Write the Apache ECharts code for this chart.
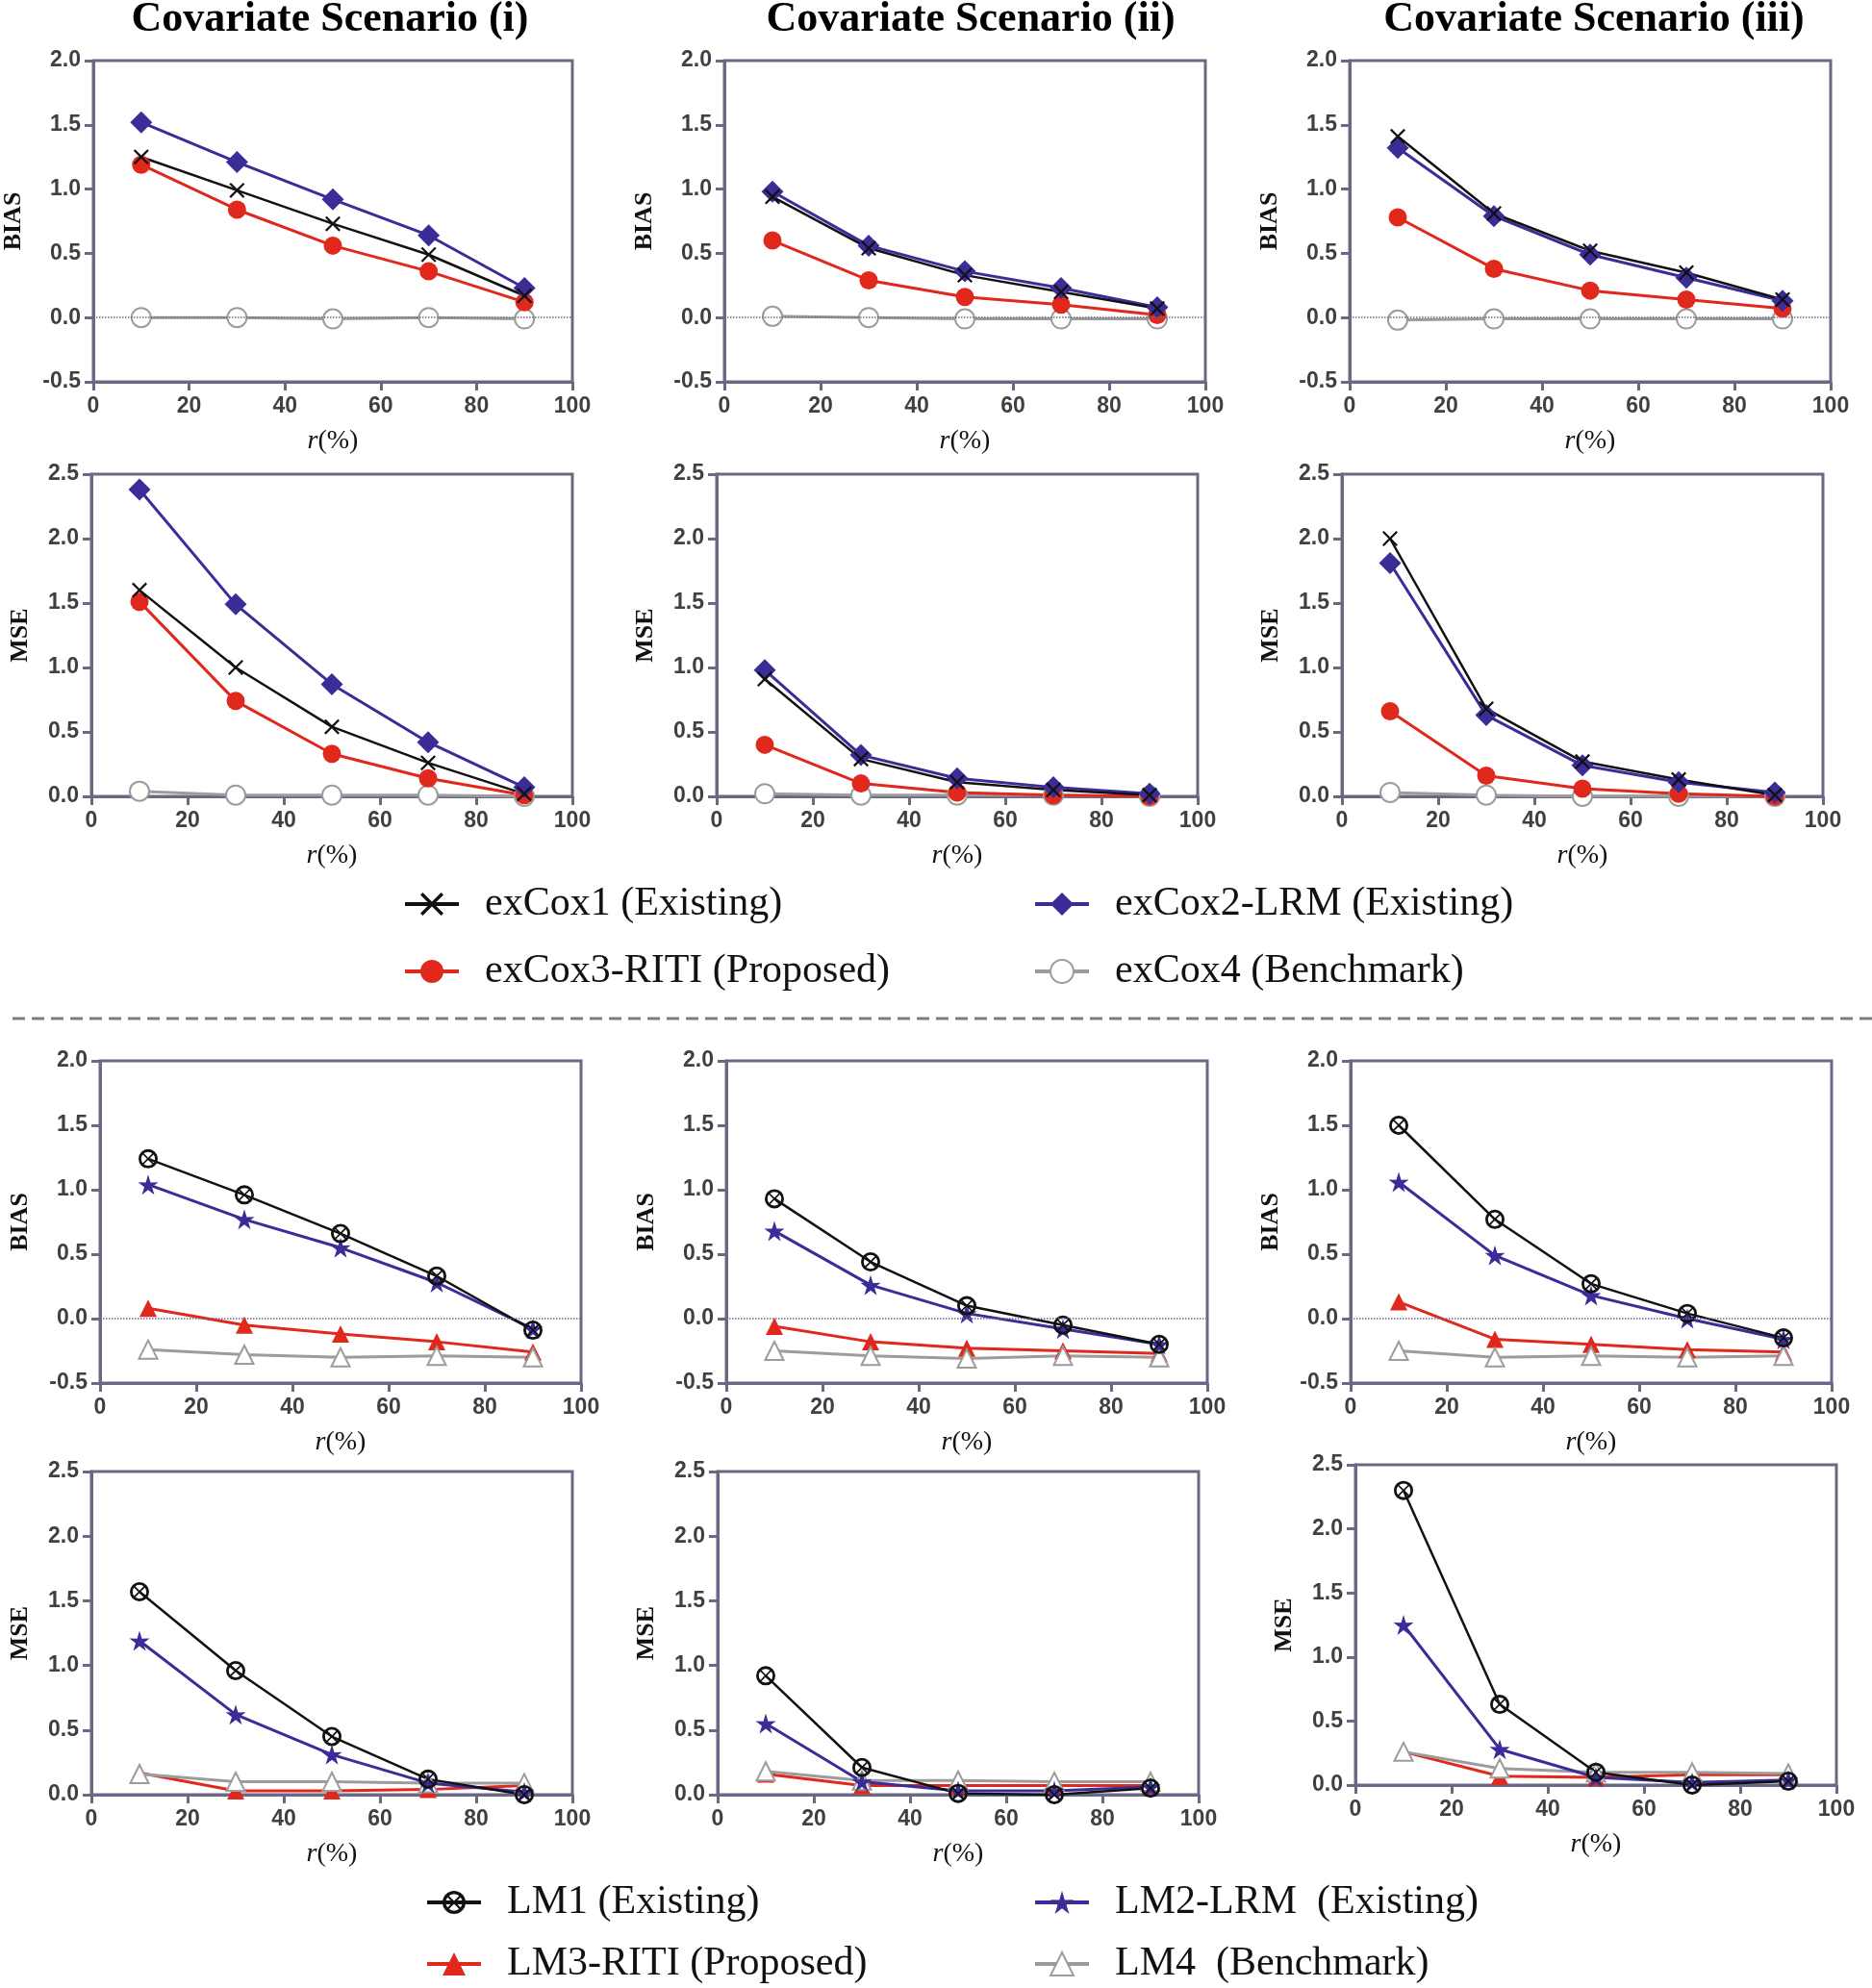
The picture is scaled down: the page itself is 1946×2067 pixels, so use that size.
<!DOCTYPE html>
<html><head><meta charset="utf-8">
<script src="https://cdn.jsdelivr.net/npm/echarts@6/dist/echarts.min.js"></script>
<style>html,body{margin:0;padding:0;background:#fff}#c{width:1946px;height:2067px}</style>
</head><body><div id="c"></div>
<script>
// ---------------- DATA ----------------
const rPct = [10, 30, 50, 70, 90];
const scenarioTitles = ['Covariate Scenario (i)', 'Covariate Scenario (ii)', 'Covariate Scenario (iii)'];
const xTickRange = [0, 100, 20];
const biasTickRange = [-0.5, 2.0, 0.5];
const mseTickRange = [0, 2.5, 0.5];

const coxNames = ['exCox1 (Existing)', 'exCox2-LRM (Existing)', 'exCox3-RITI (Proposed)', 'exCox4 (Benchmark)'];
const lmNames = ['LM1 (Existing)', 'LM2-LRM  (Existing)', 'LM3-RITI (Proposed)', 'LM4  (Benchmark)'];

// each array: [scenario (i), (ii), (iii)]
const exCox1Bias = [[1.25, 0.99, 0.73, 0.49, 0.17], [0.94, 0.54, 0.33, 0.20, 0.07], [1.41, 0.81, 0.52, 0.35, 0.14]];
const exCox2Bias = [[1.52, 1.21, 0.92, 0.64, 0.23], [0.98, 0.56, 0.36, 0.23, 0.08], [1.32, 0.79, 0.49, 0.31, 0.13]];
const exCox3Bias = [[1.19, 0.84, 0.56, 0.36, 0.12], [0.60, 0.29, 0.16, 0.10, 0.02], [0.78, 0.38, 0.21, 0.14, 0.07]];
const exCox4Bias = [[0.00, 0.00, -0.01, 0.00, -0.01], [0.01, 0.00, -0.01, -0.01, -0.01], [-0.02, -0.01, -0.01, -0.01, -0.01]];

const exCox1Mse = [[1.60, 1.00, 0.54, 0.26, 0.02], [0.91, 0.29, 0.11, 0.05, 0.01], [2.00, 0.68, 0.27, 0.13, 0.01]];
const exCox2Mse = [[2.38, 1.49, 0.87, 0.42, 0.07], [0.98, 0.32, 0.14, 0.07, 0.02], [1.81, 0.63, 0.24, 0.11, 0.03]];
const exCox3Mse = [[1.51, 0.74, 0.33, 0.14, 0.01], [0.40, 0.10, 0.03, 0.01, 0.00], [0.66, 0.16, 0.06, 0.02, 0.00]];
const exCox4Mse = [[0.04, 0.01, 0.01, 0.01, 0.00], [0.02, 0.01, 0.01, 0.01, 0.00], [0.03, 0.01, 0.00, 0.00, 0.00]];

const lm1Bias = [[1.24, 0.96, 0.66, 0.33, -0.09], [0.93, 0.44, 0.10, -0.05, -0.20], [1.50, 0.77, 0.27, 0.04, -0.15]];
const lm2Bias = [[1.04, 0.77, 0.55, 0.28, -0.08], [0.68, 0.26, 0.04, -0.08, -0.20], [1.06, 0.49, 0.18, 0.00, -0.16]];
const lm3Bias = [[0.08, -0.05, -0.12, -0.18, -0.26], [-0.06, -0.18, -0.23, -0.25, -0.27], [0.13, -0.16, -0.20, -0.24, -0.26]];
const lm4Bias = [[-0.24, -0.28, -0.30, -0.29, -0.30], [-0.25, -0.29, -0.31, -0.29, -0.30], [-0.25, -0.30, -0.29, -0.30, -0.29]];

const lm1Mse = [[1.57, 0.96, 0.45, 0.12, 0.00], [0.92, 0.21, 0.01, 0.00, 0.05], [2.30, 0.63, 0.10, 0.00, 0.03]];
const lm2Mse = [[1.19, 0.62, 0.31, 0.09, 0.02], [0.55, 0.10, 0.03, 0.03, 0.06], [1.25, 0.28, 0.06, 0.02, 0.04]];
const lm3Mse = [[0.17, 0.03, 0.03, 0.04, 0.07], [0.16, 0.07, 0.07, 0.07, 0.07], [0.26, 0.07, 0.06, 0.08, 0.08]];
const lm4Mse = [[0.16, 0.10, 0.10, 0.09, 0.09], [0.18, 0.11, 0.11, 0.10, 0.10], [0.26, 0.13, 0.10, 0.10, 0.09]];

// ---------------- STYLE / LAYOUT ----------------
const AX = '#6b6886';
const C_BLACK = '#111111', C_BLUE = '#3b2d98', C_RED = '#e0281c', C_GRAY = '#9c9c9c';
const SYM_X = 'path://M0,10L10,0L50,40L90,0L100,10L60,50L100,90L90,100L50,60L10,100L0,90L40,50Z';
const SYM_OX = 'path://M50,0A50,50,0,1,1,50,100A50,50,0,1,1,50,0Z M50,14A36,36,0,1,0,50,86A36,36,0,1,0,50,14Z M20,26L26,20L50,44L74,20L80,26L56,50L80,74L74,80L50,56L26,80L20,74L44,50Z';
const SYM_STAR = 'path://M50,0L61.2,35.5L97.6,34.5L68.2,56L79.4,90.5L50,69L20.6,90.5L31.8,56L2.4,34.5L38.8,35.5Z';

const rowLayout = [
  { top: 63, height: 334, lefts: [95, 753, 1403], metric: 'BIAS', fam: 'cox' },
  { top: 493, height: 335, lefts: [95, 745, 1395], metric: 'MSE', fam: 'cox' },
  { top: 1103, height: 335, lefts: [104, 755, 1404], metric: 'BIAS', fam: 'lm' },
  { top: 1530, height: 336, lefts: [95, 746, 1409], metric: 'MSE', fam: 'lm' }
];

const grids = [], xAxes = [], yAxes = [], series = [];

function pts(arr) { return rPct.map((x, i) => [x, arr[i]]); }

function mkSeries(name, arr, gi, color, symbol, size, lw, empty) {
  return {
    type: 'line', name: name, xAxisIndex: gi, yAxisIndex: gi,
    data: pts(arr), symbol: symbol, symbolSize: size, showAllSymbol: true,
    itemStyle: { color: color, borderWidth: empty ? 2.8 : 0 },
    lineStyle: { color: color, width: lw },
    emphasis: { disabled: true }
  };
}

rowLayout.forEach((row, r) => {
  for (let c = 0; c < 3; c++) {
    const gi = r * 3 + c;
    let top = row.top, height = row.height;
    if (r === 3 && c === 2) { top = 1523; height = 333; }
    grids.push({ left: row.lefts[c], top: top, width: 500, height: height, show: true, borderColor: AX, borderWidth: 3, containLabel: false });
    xAxes.push({
      type: 'value', gridIndex: gi, min: xTickRange[0], max: xTickRange[1], interval: xTickRange[2],
      axisLine: { show: true, onZero: false, lineStyle: { color: AX, width: 3 } },
      axisTick: { show: true, length: 9, lineStyle: { color: AX, width: 3 } },
      axisLabel: { fontSize: 23, fontWeight: 'bold', color: '#404040', fontFamily: 'Liberation Sans', margin: 14 },
      splitLine: { show: false },
      name: '{i|r}(%)', nameLocation: 'middle', nameGap: 48,
      nameTextStyle: { fontFamily: 'Liberation Serif', fontSize: 28, color: '#111',
        rich: { i: { fontStyle: 'italic', fontFamily: 'Liberation Serif', fontSize: 28, color: '#111' } } }
    });
    const tr = row.metric === 'BIAS' ? biasTickRange : mseTickRange;
    yAxes.push({
      type: 'value', gridIndex: gi, min: tr[0], max: tr[1], interval: tr[2],
      axisLine: { show: true, onZero: false, lineStyle: { color: AX, width: 3 } },
      axisTick: { show: true, length: 9, lineStyle: { color: AX, width: 3 } },
      axisLabel: { fontSize: 23, fontWeight: 'bold', color: '#404040', fontFamily: 'Liberation Sans', margin: 13,
        formatter: v => v.toFixed(1) },
      splitLine: { show: false },
      name: row.metric, nameLocation: 'middle', nameGap: row.metric === 'BIAS' ? 70 : 61,
      nameTextStyle: { fontFamily: 'Liberation Serif', fontWeight: 'bold', fontSize: 26, color: '#111' }
    });
    const isBias = row.metric === 'BIAS';
    let s;
    if (row.fam === 'cox') {
      const d1 = isBias ? exCox1Bias : exCox1Mse, d2 = isBias ? exCox2Bias : exCox2Mse;
      const d3 = isBias ? exCox3Bias : exCox3Mse, d4 = isBias ? exCox4Bias : exCox4Mse;
      s = [
        mkSeries(coxNames[3], d4[c], gi, C_GRAY, 'emptyCircle', 20, 3, true),
        mkSeries(coxNames[2], d3[c], gi, C_RED, 'circle', 19, 3),
        mkSeries(coxNames[1], d2[c], gi, C_BLUE, 'diamond', 23, 3),
        mkSeries(coxNames[0], d1[c], gi, C_BLACK, SYM_X, 16, 2.5)
      ];
    } else {
      const d1 = isBias ? lm1Bias : lm1Mse, d2 = isBias ? lm2Bias : lm2Mse;
      const d3 = isBias ? lm3Bias : lm3Mse, d4 = isBias ? lm4Bias : lm4Mse;
      s = [
        mkSeries(lmNames[2], d3[c], gi, C_RED, 'triangle', 18, 3),
        mkSeries(lmNames[3], d4[c], gi, C_GRAY, 'emptyTriangle', 19, 3, true),
        mkSeries(lmNames[1], d2[c], gi, C_BLUE, SYM_STAR, 21, 3),
        mkSeries(lmNames[0], d1[c], gi, C_BLACK, SYM_OX, 20, 2.5)
      ];
    }
    if (isBias) {
      s[0].markLine = { silent: true, symbol: ['none', 'none'], label: { show: false },
        lineStyle: { color: AX, type: 'dotted', width: 1.5 }, data: [{ yAxis: 0 }] };
    }
    s.forEach(x => series.push(x));
  }
});

const legendBase = {
  orient: 'vertical', padding: 0, itemWidth: 56, itemHeight: 30, selectedMode: false,
  lineStyle: { width: 4 },
  textStyle: { fontFamily: 'Liberation Serif', fontSize: 42, color: '#111', lineHeight: 44, padding: [0, 0, 0, 22] }
};
const legends = [
  Object.assign({}, legendBase, { left: 419, top: 918, itemGap: 26, data: [coxNames[0], coxNames[2]] }),
  Object.assign({}, legendBase, { left: 1074, top: 918, itemGap: 26, data: [coxNames[1], coxNames[3]] }),
  Object.assign({}, legendBase, { left: 442, top: 1956, itemGap: 20, data: [lmNames[0], lmNames[2]] }),
  Object.assign({}, legendBase, { left: 1074, top: 1956, itemGap: 20, data: [lmNames[1], lmNames[3]] })
];

const titleX = [343, 1009, 1657];
const graphics = scenarioTitles.map((t, i) => ({
  type: 'text', x: titleX[i], y: 21, silent: true,
  style: { text: t, fontFamily: 'Liberation Serif', fontWeight: 'bold', fontSize: 44, fill: '#000', align: 'center', verticalAlign: 'middle' }
}));
graphics.push({ type: 'line', silent: true, shape: { x1: 13, y1: 1059, x2: 1946, y2: 1059 },
  style: { stroke: '#7d7d7d', lineWidth: 3, lineDash: [13, 7] } });

const chart = echarts.init(document.getElementById('c'), null, { renderer: 'canvas' });
chart.setOption({
  animation: false,
  backgroundColor: '#fff',
  grid: grids, xAxis: xAxes, yAxis: yAxes, series: series,
  legend: legends, graphic: graphics
});
</script></body></html>
